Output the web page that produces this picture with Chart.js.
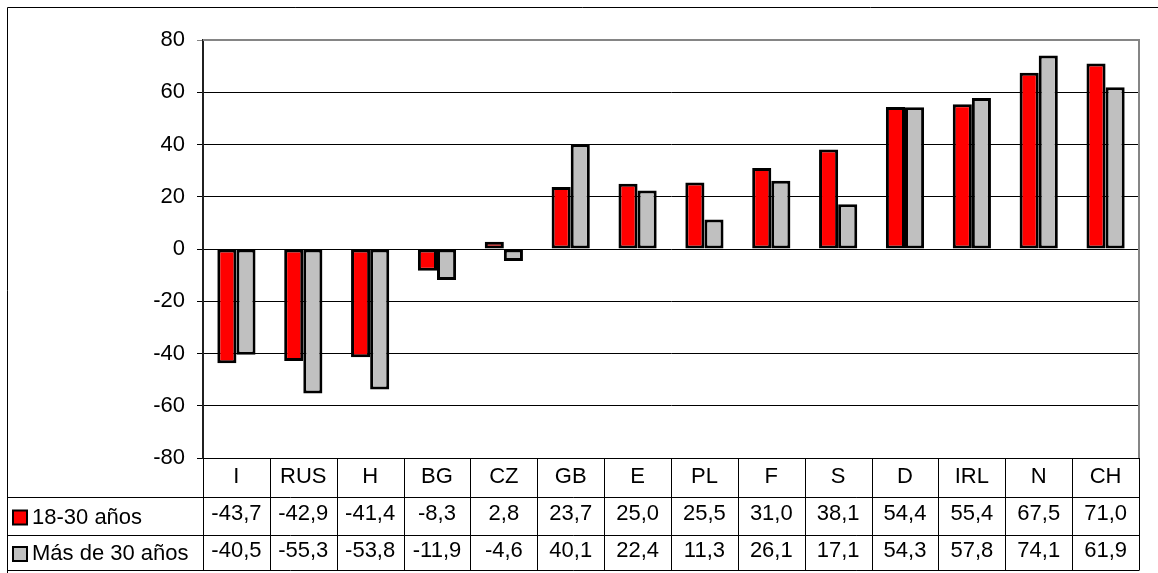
<!DOCTYPE html>
<html>
<head>
<meta charset="utf-8">
<title>18-30 años / Más de 30 años</title>
<script src="https://cdn.jsdelivr.net/npm/chart.js@4.4.0/dist/chart.umd.min.js"></script>
<style>
    body { margin: 0; background: #ffffff; }
    #wrap { width: 1158px; height: 573px; }
</style>
</head>
<body>
<div id="wrap"><canvas id="myChart" width="1158" height="573"></canvas></div>
<script>
'use strict';

// countries on the x axis
let countries = ['I', 'RUS', 'H', 'BG', 'CZ', 'GB', 'E', 'PL', 'F', 'S', 'D', 'IRL', 'N', 'CH'];
// series values
let youngValues = [-43.7, -42.9, -41.4, -8.3, 2.8, 23.7, 25.0, 25.5, 31.0, 38.1, 54.4, 55.4, 67.5, 71.0];
let olderValues = [-40.5, -55.3, -53.8, -11.9, -4.6, 40.1, 22.4, 11.3, 26.1, 17.1, 54.3, 57.8, 74.1, 61.9];
let seriesNames = ['18-30 años', 'Más de 30 años'];
let seriesColors = ['#ff0000', '#c0c0c0'];
// y axis ticks
let yMin = -80;
let yMax = 80;
let yStep = 20;

let fontName = '"Liberation Sans", Arial, sans-serif';
let fontSize = 22;
let textLine = 37;
// offsets of the table row separators below the x axis
let rowLines = [38.5, 77, 112];

function formatValue(v) {
    return v.toFixed(1).replace('.', ',');
}

// draws the outer frame, the plot border and the data table grid + legend keys
let tablePlugin = {
    id: 'dataTable',
    afterDraw(chart) {
        let ctx = chart.ctx;
        let area = chart.chartArea;
        let xScale = chart.scales.x;
        let top = area.bottom;
        let bottom = top + rowLines[2];
        let frameLeft = 7.5;

        ctx.save();

        // gray plot area border (top and right)
        ctx.strokeStyle = '#858585';
        ctx.lineWidth = 2;
        ctx.beginPath();
        ctx.moveTo(area.left, area.top);
        ctx.lineTo(area.right, area.top);
        ctx.lineTo(area.right, area.bottom);
        ctx.stroke();

        // outer chart frame
        ctx.strokeStyle = '#000000';
        ctx.lineWidth = 1;
        ctx.beginPath();
        ctx.moveTo(frameLeft, chart.height);
        ctx.lineTo(frameLeft, 7.5);
        ctx.lineTo(chart.width, 7.5);
        ctx.stroke();

        // table lines
        ctx.beginPath();
        for (let r = 0; r < rowLines.length; r++) {
            let y = Math.round(top + rowLines[r]) + 0.5;
            ctx.moveTo(frameLeft, y);
            ctx.lineTo(area.right, y);
        }
        let edges = [area.left];
        for (let i = 0; i < countries.length - 1; i++) {
            edges.push((xScale.getPixelForValue(i) + xScale.getPixelForValue(i + 1)) / 2);
        }
        edges.push(area.right);
        for (let i = 0; i < edges.length; i++) {
            let x = Math.round(edges[i]) + 0.5;
            ctx.moveTo(x, top);
            ctx.lineTo(x, Math.round(bottom) + 0.5);
        }
        ctx.stroke();

        // legend keys in the row headers
        ctx.font = fontSize + 'px ' + fontName;
        ctx.textBaseline = 'middle';
        ctx.textAlign = 'left';
        let keyCenters = [top + 59.5, top + 96];
        for (let s = 0; s < seriesNames.length; s++) {
            let cy = keyCenters[s];
            ctx.fillStyle = seriesColors[s];
            ctx.fillRect(13, cy - 7, 14, 14);
            ctx.lineWidth = 2;
            ctx.strokeStyle = '#000000';
            ctx.strokeRect(13, cy - 7, 14, 14);
            ctx.fillStyle = '#000000';
            ctx.fillText(seriesNames[s], 32, cy);
        }

        ctx.restore();
    }
};

let ctx = document.getElementById('myChart').getContext('2d');
let chart = new Chart(ctx, {
    type: 'bar',
    data: {
        labels: countries,
        datasets: [{
            label: seriesNames[0],
            data: youngValues,
            backgroundColor: seriesColors[0],
            borderColor: '#000000',
            borderWidth: 3,
            borderSkipped: false
        },
        {
            label: seriesNames[1],
            data: olderValues,
            backgroundColor: seriesColors[1],
            borderColor: '#000000',
            borderWidth: 3,
            borderSkipped: false
        }]
    },
    options: {
        responsive: false,
        animation: false,
        layout: {
            padding: { left: 7, top: 40, right: 19, bottom: 3 }
        },
        datasets: {
            bar: {
                categoryPercentage: 0.5714,
                barPercentage: 1.0
            }
        },
        plugins: {
            legend: { display: false },
            tooltip: { enabled: false }
        },
        scales: {
            x: {
                grid: { display: false, drawTicks: false },
                border: { display: true, color: '#000000', width: 1 },
                ticks: {
                    color: '#000000',
                    padding: 0.5,
                    maxRotation: 0,
                    autoSkip: false,
                    font: { family: fontName, size: fontSize, lineHeight: textLine / fontSize },
                    // category name plus both values, one table row per line
                    callback: function (value, index) {
                        return [countries[index], formatValue(youngValues[index]), formatValue(olderValues[index])];
                    }
                },
                afterFit: function (scale) {
                    scale.height = rowLines[2];
                }
            },
            y: {
                min: yMin,
                max: yMax,
                grid: {
                    color: function (c) {
                        return c.tick && c.tick.value === yMax ? '#858585' : '#000000';
                    },
                    lineWidth: 1,
                    tickLength: 6
                },
                border: { display: true, color: '#202020', width: 2 },
                ticks: {
                    stepSize: yStep,
                    color: '#000000',
                    padding: 12,
                    font: { family: fontName, size: fontSize }
                },
                afterFit: function (scale) {
                    scale.width = 196;
                }
            }
        }
    },
    plugins: [tablePlugin]
});
</script>
</body>
</html>
